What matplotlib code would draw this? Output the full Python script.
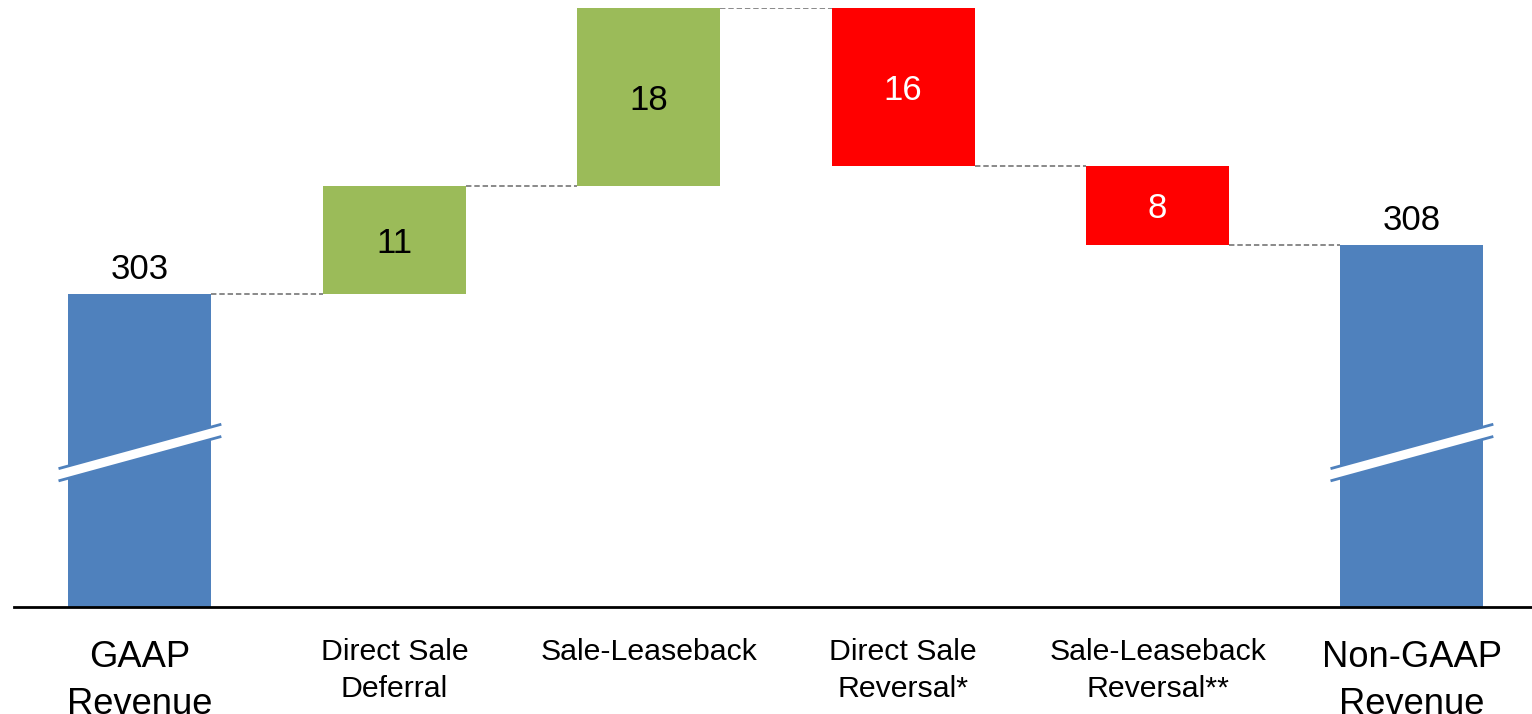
import matplotlib
matplotlib.use("Agg")
import matplotlib.pyplot as plt
from matplotlib.patches import Polygon

plt.rcParams["font.family"] = ["Liberation Sans", "DejaVu Sans"]

# waterfall: GAAP revenue -> adjustments -> Non-GAAP revenue
CATEGORIES = ["GAAP\nRevenue", "Direct Sale\nDeferral", "Sale-Leaseback",
              "Direct Sale\nReversal*", "Sale-Leaseback\nReversal**",
              "Non-GAAP\nRevenue"]
GAAP_REVENUE = 303
ADJUSTMENTS = [11, 18, -16, -8]
NON_GAAP_REVENUE = 308

BLUE = "#4F81BD"
GREEN = "#9BBB59"
RED = "#FF0000"
DASH = "#808080"

Y_BOTTOM = 271.3   # axis is cut (broken) well above zero
Y_TOP = 332.0
WIDTH = 0.562

fig = plt.figure(figsize=(15.32, 7.14), dpi=100)
ax = fig.add_axes([14 / 1532, 107 / 714, 1518 / 1532, 599 / 714])
ax.set_xlim(-0.495, 5.472)
ax.set_ylim(Y_BOTTOM, Y_TOP)
for s in ("top", "right", "left"):
    ax.spines[s].set_visible(False)
ax.spines["bottom"].set_linewidth(2)
ax.spines["bottom"].set_color("black")
ax.set_xticks([])
ax.set_yticks([])

n = len(CATEGORIES)
# totals
for i, val in ((0, GAAP_REVENUE), (n - 1, NON_GAAP_REVENUE)):
    ax.bar(i, val - Y_BOTTOM, bottom=Y_BOTTOM, width=WIDTH, color=BLUE, zorder=2)
    ax.annotate(f"{val}", xy=(i, val), xytext=(0, 8), textcoords="offset pixels",
                ha="center", va="bottom", fontsize=25, color="black")

# steps
level = GAAP_REVENUE
levels = [level]
for k, d in enumerate(ADJUSTMENTS):
    i = k + 1
    lo, hi = min(level, level + d), max(level, level + d)
    col = GREEN if d > 0 else RED
    ax.bar(i, hi - lo, bottom=lo, width=WIDTH, color=col, zorder=2)
    ax.text(i, (lo + hi) / 2, f"{abs(d)}", ha="center", va="center_baseline",
            fontsize=25, color="black" if d > 0 else "white", zorder=3)
    level += d
    levels.append(level)

# dashed connectors between neighbouring bars
for i, lv in enumerate(levels):
    ax.plot([i + WIDTH / 2, i + 1 - WIDTH / 2], [lv, lv], color=DASH,
            lw=1.3, ls=(0, (3, 1.6)), zorder=1)

# axis-break marks across the two total bars
half_w, half_h, rise = 0.32, 0.62, 2.25
for i in (0, n - 1):
    yc = 286.95
    xl, xr = i - half_w, i + half_w
    poly = Polygon([(xl, yc - rise + half_h), (xr, yc + rise + half_h),
                    (xr, yc + rise - half_h), (xl, yc - rise - half_h)],
                   closed=True, facecolor="white", edgecolor="none", zorder=4)
    ax.add_patch(poly)
    for sgn in (1, -1):
        ax.plot([xl, xr], [yc - rise + sgn * half_h, yc + rise + sgn * half_h],
                color=BLUE, lw=2, zorder=5, solid_capstyle="butt")

# category labels
for i, lab in enumerate(CATEGORIES):
    big = i in (0, n - 1)
    ax.annotate(lab, xy=(i, 0), xycoords=("data", "axes fraction"),
                xytext=(0, -33 if big else -31), textcoords="offset pixels",
                ha="center", va="top", fontsize=26.2 if big else 21.8,
                linespacing=1.43 if big else 1.4, annotation_clip=False)

fig.savefig("out.png", dpi=100)
